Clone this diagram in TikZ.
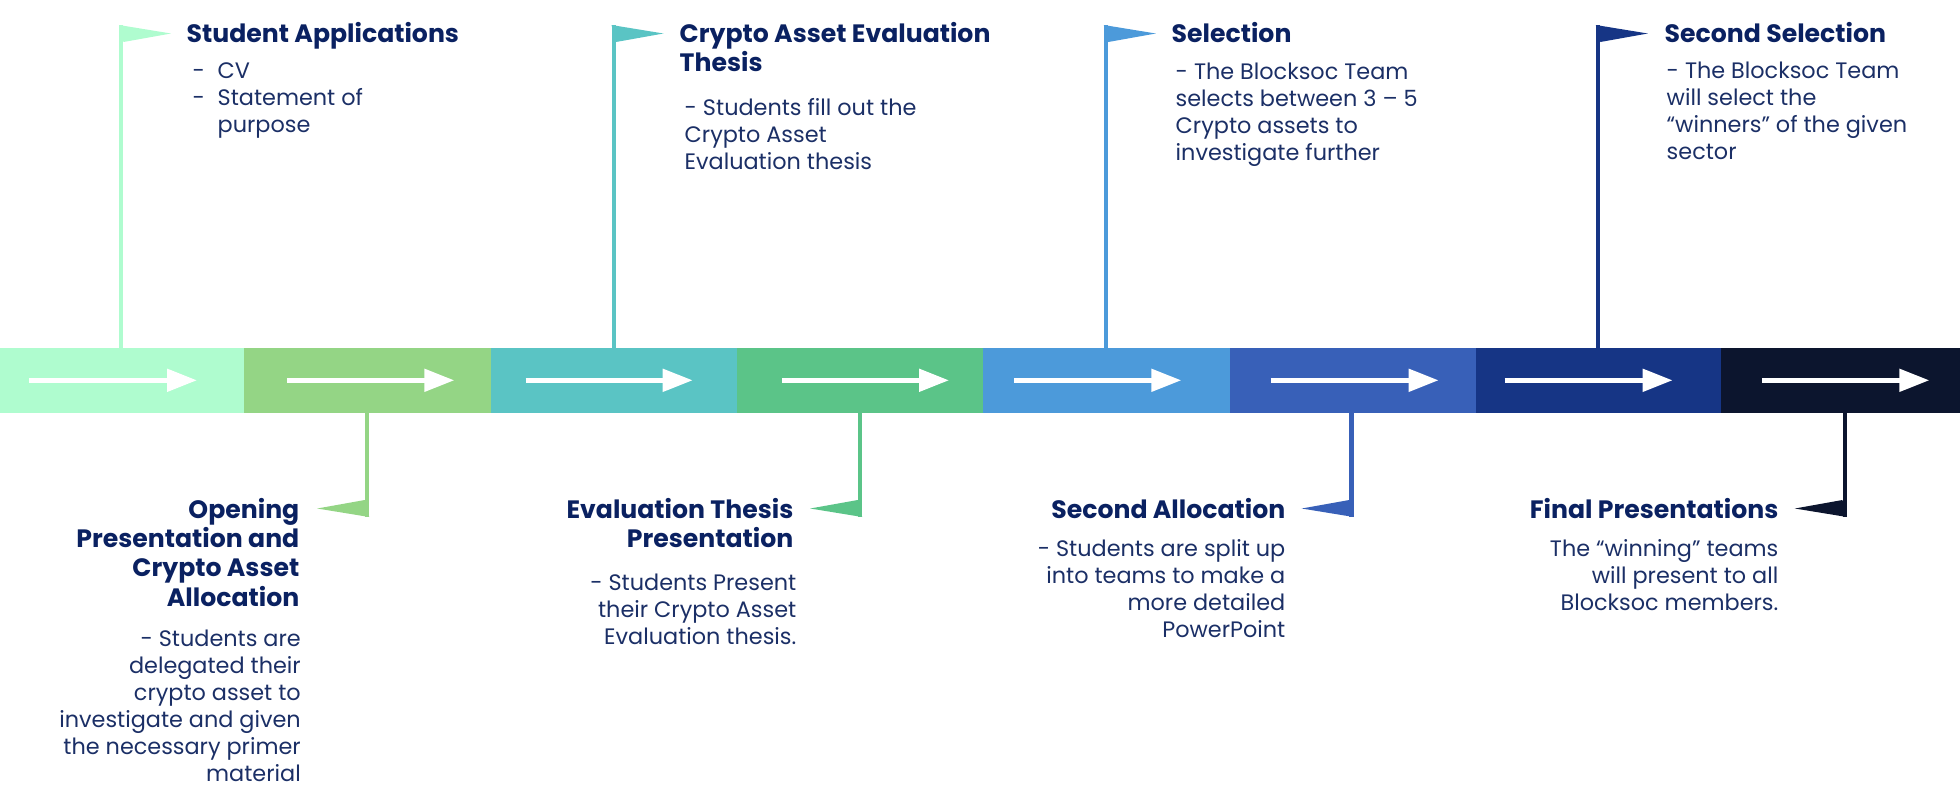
\documentclass[tikz,border=0pt]{standalone}
\usepackage{fontspec}
\setmainfont{Poppins}
\usetikzlibrary{arrows.meta}
\definecolor{colA}{HTML}{AFFCCF}
\definecolor{colB}{HTML}{94D585}
\definecolor{colC}{HTML}{5AC4C4}
\definecolor{colD}{HTML}{5BC488}
\definecolor{colE}{HTML}{4C9ADA}
\definecolor{colF}{HTML}{3860B8}
\definecolor{colG}{HTML}{163585}
\definecolor{colH}{HTML}{0C152E}
\definecolor{headcol}{HTML}{0A2161}
\definecolor{textcol}{HTML}{1B2F66}
\tikzset{
  seg/.style={minimum height=0.645cm,inner sep=0,outer sep=0,anchor=west},
  pole/.style={line width=0.044cm},
  flow/.style={white,line width=0.05cm,-{Triangle[length=0.3cm,width=0.22cm]}},
  headl/.style={anchor=north west,inner sep=0,align=left,text=headcol,font=\fontsize{7.16}{8.34}\selectfont\bfseries},
  headr/.style={anchor=north east,inner sep=0,align=right,text=headcol,font=\fontsize{7.16}{8.34}\selectfont\bfseries},
  bodyl/.style={anchor=north west,inner sep=0,align=left,text=textcol,font=\fontsize{6.36}{7.68}\selectfont},
  bodyr/.style={anchor=north east,inner sep=0,align=right,text=textcol,font=\fontsize{6.36}{7.68}\selectfont}
}
\begin{document}
\begin{tikzpicture}[x=1cm,y=-1cm]
\useasboundingbox (0,0) rectangle (19.6,8.02);
% bar
\node[seg,fill=colA,minimum width=2.443cm] (segA) at (0,3.803){};
\node[seg,fill=colB,minimum width=2.464cm] (segB) at (2.443,3.803){};
\node[seg,fill=colC,minimum width=2.463cm] (segC) at (4.907,3.803){};
\node[seg,fill=colD,minimum width=2.463cm] (segD) at (7.37,3.803){};
\node[seg,fill=colE,minimum width=2.463cm] (segE) at (9.833,3.803){};
\node[seg,fill=colF,minimum width=2.46cm] (segF) at (12.296,3.803){};
\node[seg,fill=colG,minimum width=2.457cm] (segG) at (14.756,3.803){};
\node[seg,fill=colH,minimum width=2.387cm] (segH) at (17.213,3.803){};
% arrows on the bar
\draw[flow]([xshift=0.29cm]segA.west)--([xshift=1.97cm]segA.west);
\draw[flow]([xshift=0.43cm]segB.west)--([xshift=2.10cm]segB.west);
\draw[flow]([xshift=0.35cm]segC.west)--([xshift=2.02cm]segC.west);
\draw[flow]([xshift=0.45cm]segD.west)--([xshift=2.12cm]segD.west);
\draw[flow]([xshift=0.31cm]segE.west)--([xshift=1.98cm]segE.west);
\draw[flow]([xshift=0.41cm]segF.west)--([xshift=2.09cm]segF.west);
\draw[flow]([xshift=0.29cm]segG.west)--([xshift=1.97cm]segG.west);
\draw[flow]([xshift=0.41cm]segH.west)--([xshift=2.08cm]segH.west);
% flags above
\coordinate (flagA) at (1.212,0.25);
\draw[pole,colA](flagA)--(flagA |- segA.north);
\fill[colA]([xshift=-0.022cm]flagA)--++(0.52,0.085)--++(-0.475,0.085)--cycle;
\coordinate (flagC) at (6.137,0.25);
\draw[pole,colC](flagC)--(flagC |- segC.north);
\fill[colC]([xshift=-0.022cm]flagC)--++(0.52,0.085)--++(-0.475,0.085)--cycle;
\coordinate (flagE) at (11.06,0.25);
\draw[pole,colE](flagE)--(flagE |- segE.north);
\fill[colE]([xshift=-0.022cm]flagE)--++(0.52,0.085)--++(-0.475,0.085)--cycle;
\coordinate (flagG) at (15.98,0.25);
\draw[pole,colG](flagG)--(flagG |- segG.north);
\fill[colG]([xshift=-0.022cm]flagG)--++(0.52,0.085)--++(-0.475,0.085)--cycle;
% flags below
\coordinate (flagB) at (3.67,5.17);
\draw[pole,colB](flagB |- segB.south)--(flagB);
\fill[colB]([xshift=0.022cm]flagB)--++(-0.52,-0.085)--++(0.475,-0.085)--cycle;
\coordinate (flagD) at (8.60,5.17);
\draw[pole,colD](flagD |- segD.south)--(flagD);
\fill[colD]([xshift=0.022cm]flagD)--++(-0.52,-0.085)--++(0.475,-0.085)--cycle;
\coordinate (flagF) at (13.515,5.17);
\draw[pole,colF](flagF |- segF.south)--(flagF);
\fill[colF]([xshift=0.022cm]flagF)--++(-0.52,-0.085)--++(0.475,-0.085)--cycle;
\coordinate (flagH) at (18.447,5.17);
\draw[pole,colH](flagH |- segH.south)--(flagH);
\fill[colH]([xshift=0.022cm]flagH)--++(-0.52,-0.085)--++(0.475,-0.085)--cycle;
% texts above
\node[headl] (headA) at (1.86,0.215){Student Applications};
\node[bodyl] (bodyA) at (1.92,0.625){\makebox[0.25cm][l]{-}CV\\\makebox[0.25cm][l]{-}Statement of\\\hspace*{0.25cm}purpose};
\node[headl] (headC) at (6.79,0.215){Crypto Asset Evaluation\\Thesis};
\node[bodyl] (bodyC) at (6.84,0.975){- Students fill out the\\Crypto Asset\\Evaluation thesis};
\node[headl] (headE) at (11.71,0.215){Selection};
\node[bodyl] (bodyE) at (11.75,0.625){- The Blocksoc Team\\selects between 3 -- 5\\Crypto assets to\\investigate further};
\node[headl] (headG) at (16.64,0.215){Second Selection};
\node[bodyl] (bodyG) at (16.66,0.615){- The Blocksoc Team\\will select the\\“winners” of the given\\sector};
% texts below
\node[headr] (headB) at (3.00,4.975){Opening\\Presentation and\\Crypto Asset\\Allocation};
\node[bodyr] (bodyB) at (3.015,6.295){- Students are\\delegated their\\crypto asset to\\investigate and given\\the necessary primer\\material};
\node[headr] (headD) at (7.94,4.975){Evaluation Thesis\\Presentation};
\node[bodyr] (bodyD) at (7.97,5.735){- Students Present\\their Crypto Asset\\Evaluation thesis.};
\node[headr] (headF) at (12.86,4.975){Second Allocation};
\node[bodyr] (bodyF) at (12.86,5.39){- Students are split up\\into teams to make a\\more detailed\\PowerPoint};
\node[headr] (headH) at (17.79,4.975){Final Presentations};
\node[bodyr] (bodyH) at (17.79,5.39){The “winning” teams\\will present to all\\Blocksoc members.};
\end{tikzpicture}
\end{document}
